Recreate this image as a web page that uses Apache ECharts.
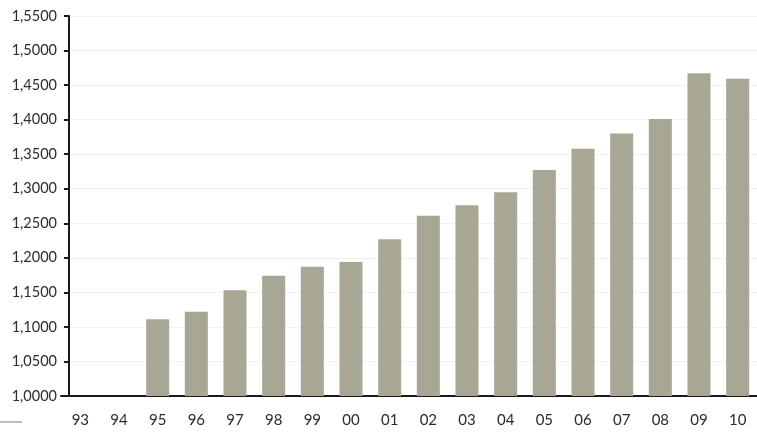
<!DOCTYPE html>
<html>
<head>
<meta charset="utf-8">
<script src="https://cdn.jsdelivr.net/npm/echarts@6/dist/echarts.min.js"></script>
<style>
html,body{margin:0;padding:0;background:#fff;}
#main{width:757px;height:439px;}
</style>
</head>
<body>
<div id="main"></div>
<script>
const categories = ['93','94','95','96','97','98','99','00','01','02','03','04','05','06','07','08','09','10'];
const values = [null, null, 1.111, 1.122, 1.153, 1.174, 1.187, 1.194, 1.227, 1.261, 1.276, 1.295, 1.327, 1.358, 1.380, 1.401, 1.467, 1.459];
const yMin = 1.0, yMax = 1.55, yStep = 0.05;

const chart = echarts.init(document.getElementById('main'), null, {renderer: 'canvas'});
chart.setOption({
  animation: false,
  backgroundColor: '#fff',
  grid: {left: 61, right: -13, top: 16, bottom: 43, containLabel: false},
  xAxis: {
    type: 'category',
    data: categories,
    boundaryGap: true,
    axisLine: {show: true, lineStyle: {color: '#1a1a1a', width: 2}},
    axisTick: {show: false},
    axisLabel: {margin: 17, color: '#2b2b2b', fontSize: 15, fontFamily: 'Lato'},
    splitLine: {show: false}
  },
  yAxis: {
    type: 'value',
    min: yMin, max: yMax, interval: yStep,
    offset: -8,
    axisLine: {show: true, lineStyle: {color: '#1a1a1a', width: 2}},
    axisTick: {show: true, length: 5, lineStyle: {color: '#1a1a1a', width: 2}},
    axisLabel: {
      margin: 12, color: '#2b2b2b', fontSize: 14.5, fontFamily: 'Lato',
      formatter: v => v.toFixed(4).replace('.', ',')
    },
    splitLine: {show: true, lineStyle: {color: '#f1f1f1', width: 1}}
  },
  series: [{
    type: 'bar',
    data: values,
    barWidth: 23,
    itemStyle: {color: '#a8a795'}
  }],
  graphic: [{
    type: 'line',
    shape: {x1: 0, y1: 422, x2: 22, y2: 422},
    style: {stroke: '#bdbdbd', lineWidth: 2}
  }]
});
</script>
</body>
</html>
